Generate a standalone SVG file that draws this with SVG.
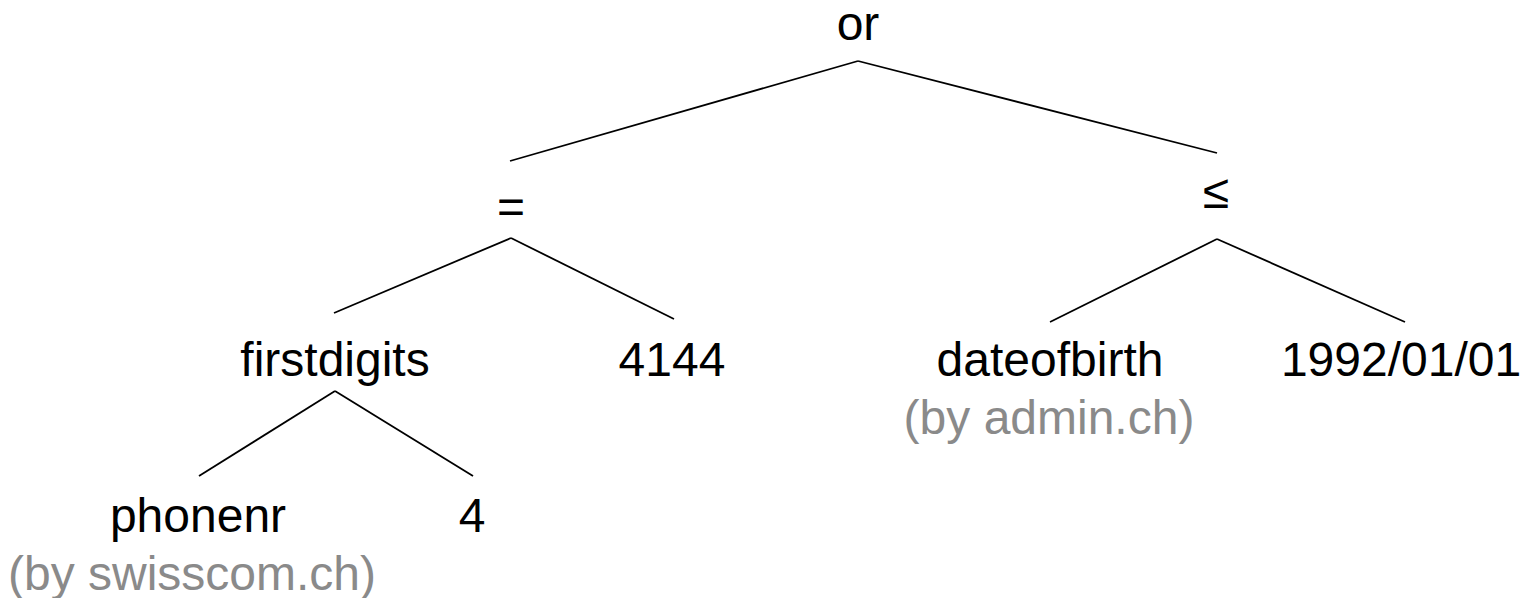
<svg xmlns="http://www.w3.org/2000/svg" width="1522" height="598" viewBox="0 0 1522 598">
  <style>
    .lbl { font-family: "Liberation Sans", Arial, sans-serif; font-size: 48px; fill: #000; text-anchor: middle; }
    .src { font-family: "Liberation Sans", Arial, sans-serif; font-size: 48px; fill: #8a8a8a; text-anchor: middle; }
    .edge { stroke: #000; stroke-width: 1.8; fill: none; }
  </style>
  <rect width="1522" height="598" fill="#fff"/>

  <!-- tree edges -->
  <g id="edges">
    <line class="edge" x1="858" y1="61" x2="510" y2="161"/>
    <line class="edge" x1="858" y1="61" x2="1217" y2="153"/>
    <line class="edge" x1="511" y1="238" x2="334" y2="313"/>
    <line class="edge" x1="511" y1="238" x2="674" y2="319"/>
    <line class="edge" x1="1217" y1="239" x2="1050" y2="322"/>
    <line class="edge" x1="1217" y1="239" x2="1405" y2="322"/>
    <line class="edge" x1="335" y1="391" x2="199" y2="476"/>
    <line class="edge" x1="335" y1="391" x2="473" y2="476"/>
  </g>

  <!-- nodes -->
  <g id="node-or"><text class="lbl" x="858" y="40">or</text></g>
  <g id="node-eq"><text class="lbl" x="511" y="223">=</text></g>
  <g id="node-le"><text class="lbl" x="1216" y="208">≤</text></g>
  <g id="node-firstdigits"><text class="lbl" x="335" y="376">firstdigits</text></g>
  <g id="node-4144"><text class="lbl" x="672" y="376">4144</text></g>
  <g id="node-dateofbirth">
    <text class="lbl" x="1050" y="376">dateofbirth</text>
    <text class="src" x="1049" y="434">(by admin.ch)</text>
  </g>
  <g id="node-date"><text class="lbl" x="1401" y="376">1992/01/01</text></g>
  <g id="node-phonenr">
    <text class="lbl" x="198" y="532">phonenr</text>
    <text class="src" x="192" y="590">(by swisscom.ch)</text>
  </g>
  <g id="node-4"><text class="lbl" x="472" y="532">4</text></g>
</svg>
